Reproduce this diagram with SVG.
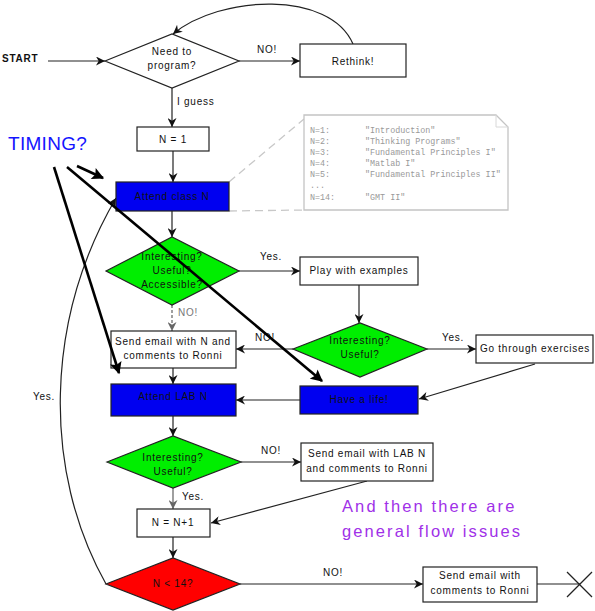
<svg xmlns="http://www.w3.org/2000/svg" width="595" height="611" viewBox="0 0 595 611">
<style>
  text { font-family: "Liberation Sans", Arial, sans-serif; font-size: 10px; fill: #111; letter-spacing: 0.75px; }
  .c { text-anchor: middle; }
  .box { fill: #fff; stroke: #222; stroke-width: 1.2; }
  .blue { fill: #0000f0; stroke: #222; stroke-width: 1.2; }
  .green { fill: #00ee00; stroke: #222; stroke-width: 1.2; }
  .red { fill: #ff0000; stroke: #222; stroke-width: 1.2; }
  .ln { fill: none; stroke: #222; stroke-width: 1.2; }
  .gray { fill: none; stroke: #777; stroke-width: 1.4; }
  .thick { fill: none; stroke: #000; stroke-width: 2.6; }
  .note { fill: #fff; stroke: #c4c4c4; stroke-width: 1.3; }
  .notet { font-family: "Liberation Mono", "Courier New", monospace; font-size: 8.4px; fill: #999; letter-spacing: 0; }
  .call { fill: none; stroke: #c8c8c8; stroke-width: 1.3; stroke-dasharray: 8 5; }
</style>
<defs>
  <marker id="arr" markerUnits="userSpaceOnUse" markerWidth="10" markerHeight="9" viewBox="0 0 10 10" refX="10" refY="5" orient="auto">
    <path d="M0,0 L10,5 L0,10 L3,5 z" fill="#111"/>
  </marker>
  <marker id="arrg" markerUnits="userSpaceOnUse" markerWidth="10" markerHeight="9" viewBox="0 0 10 10" refX="10" refY="5" orient="auto">
    <path d="M0,0 L10,5 L0,10 L3,5 z" fill="#666"/>
  </marker>
  <marker id="big" markerUnits="userSpaceOnUse" markerWidth="14" markerHeight="12" viewBox="0 0 10 10" refX="9" refY="5" orient="auto">
    <path d="M0,0 L10,5 L0,10 L2,5 z" fill="#000"/>
  </marker>
</defs>

<g id="connectors">
  <line class="ln" x1="48" y1="61" x2="105" y2="61" marker-end="url(#arr)"/>
  <line class="ln" x1="239" y1="61" x2="300" y2="61" marker-end="url(#arr)"/>
  <path class="ln" d="M353,44 C330,-10 220,-5 173,34" marker-end="url(#arr)"/>
  <line class="ln" x1="172" y1="88" x2="172" y2="127" marker-end="url(#arr)"/>
  <line class="ln" x1="173" y1="151" x2="173" y2="182" marker-end="url(#arr)"/>
  <line class="ln" x1="172" y1="211" x2="172" y2="237" marker-end="url(#arr)"/>
  <line class="ln" x1="239" y1="271" x2="300" y2="271" marker-end="url(#arr)"/>
  <line class="ln" x1="359" y1="285" x2="359" y2="323" marker-end="url(#arr)"/>
  <line class="ln" x1="427" y1="349" x2="476" y2="349" marker-end="url(#arr)"/>
  <line class="ln" x1="293" y1="349" x2="236" y2="349" marker-end="url(#arr)"/>
  <line class="ln" x1="535" y1="364" x2="419" y2="399" marker-end="url(#arr)"/>
  <line class="ln" x1="300" y1="400" x2="236" y2="400" marker-end="url(#arr)"/>
  <line class="gray" x1="172" y1="305" x2="172" y2="331" stroke-dasharray="3 2" marker-end="url(#arrg)"/>
  <line class="ln" x1="173" y1="368" x2="173" y2="384" marker-end="url(#arr)"/>
  <line class="ln" x1="173" y1="416" x2="173" y2="436" marker-end="url(#arr)"/>
  <line class="ln" x1="241" y1="462" x2="301" y2="462" marker-end="url(#arr)"/>
  <line class="ln" x1="367" y1="481" x2="211" y2="523" marker-end="url(#arr)"/>
  <line class="gray" x1="173" y1="488" x2="173" y2="509" marker-end="url(#arrg)"/>
  <line class="ln" x1="173" y1="537" x2="173" y2="558" marker-end="url(#arr)"/>
  <line class="ln" x1="240" y1="584" x2="423" y2="584" marker-end="url(#arr)"/>
  <path class="ln" d="M106,584 C42,470 45,320 116,198" marker-end="url(#arr)"/>
  <line class="ln" x1="537" y1="584" x2="580" y2="584"/>
  <line class="call" x1="229" y1="182" x2="304" y2="119"/>
  <line class="call" x1="229" y1="211" x2="304" y2="210"/>
</g>

<g id="start"><text x="2" y="62" style="font-weight:bold">START</text></g>

<g id="need">
  <polygon class="box" points="105,61 172,34 239,61 172,88"/>
  <text class="c" x="172" y="55">Need to</text>
  <text class="c" x="172" y="69">program?</text>
</g>
<g id="rethink">
  <rect class="box" x="300" y="44" width="106" height="33"/>
  <text class="c" x="353" y="65">Rethink!</text>
</g>
<g id="n1">
  <rect class="box" x="137" y="127" width="72" height="24"/>
  <text class="c" x="173" y="143">N = 1</text>
</g>
<g id="attendclass">
  <rect class="blue" x="116" y="182" width="113" height="29"/>
  <text class="c" x="172" y="200">Attend class N</text>
</g>
<g id="note">
  <path class="note" d="M304,115 L496,115 L508,127 L508,210 L304,210 Z"/>
  <path fill="none" stroke="#d8d8d8" stroke-width="1" d="M496,115 L496,127 L508,127"/>
  <text class="notet" x="310" y="133">N=1:</text><text class="notet" x="365" y="133">"Introduction"</text>
  <text class="notet" x="310" y="144">N=2:</text><text class="notet" x="365" y="144">"Thinking Programs"</text>
  <text class="notet" x="310" y="155">N=3:</text><text class="notet" x="365" y="155">"Fundamental Principles I"</text>
  <text class="notet" x="310" y="166">N=4:</text><text class="notet" x="365" y="166">"Matlab I"</text>
  <text class="notet" x="310" y="177">N=5:</text><text class="notet" x="365" y="177">"Fundamental Principles II"</text>
  <text class="notet" x="310" y="188">...</text>
  <text class="notet" x="310" y="200">N=14:</text><text class="notet" x="365" y="200">"GMT II"</text>
</g>
<g id="q1">
  <polygon class="green" points="106,271 172,237 239,271 172,305"/>
  <text class="c" x="172" y="260">Interesting?</text>
  <text class="c" x="172" y="274">Useful?</text>
  <text class="c" x="172" y="288">Accessible?</text>
</g>
<g id="play">
  <rect class="box" x="300" y="257" width="118" height="28"/>
  <text class="c" x="359" y="274">Play with examples</text>
</g>
<g id="q2">
  <polygon class="green" points="293,349 360,323 427,349 360,377"/>
  <text class="c" x="360" y="344">Interesting?</text>
  <text class="c" x="360" y="358">Useful?</text>
</g>
<g id="exercises">
  <rect class="box" x="476" y="335" width="117" height="28"/>
  <text class="c" x="535" y="352">Go through exercises</text>
</g>
<g id="life">
  <rect class="blue" x="300" y="386" width="118" height="28"/>
  <text class="c" x="359" y="403">Have a life!</text>
</g>
<g id="email1">
  <rect class="box" x="111" y="331" width="125" height="37"/>
  <text class="c" x="173" y="345">Send email with N and</text>
  <text class="c" x="173" y="359">comments to Ronni</text>
</g>
<g id="lab">
  <rect class="blue" x="111" y="384" width="125" height="32"/>
  <text class="c" x="173" y="400">Attend LAB N</text>
</g>
<g id="q3">
  <polygon class="green" points="107,462 173,436 241,462 173,488"/>
  <text class="c" x="173" y="461">Interesting?</text>
  <text class="c" x="173" y="475">Useful?</text>
</g>
<g id="email2">
  <rect class="box" x="301" y="443" width="132" height="38"/>
  <text class="c" x="367" y="457">Send email with LAB N</text>
  <text class="c" x="367" y="472">and comments to Ronni</text>
</g>
<g id="ninc">
  <rect class="box" x="137" y="509" width="73" height="28"/>
  <text class="c" x="173" y="526">N = N+1</text>
</g>
<g id="q4">
  <polygon class="red" points="106,584 173,558 240,584 173,610"/>
  <text class="c" x="173" y="587">N &lt; 14?</text>
</g>
<g id="email3">
  <rect class="box" x="423" y="567" width="114" height="35"/>
  <text class="c" x="480" y="579">Send email with</text>
  <text class="c" x="480" y="594">comments to Ronni</text>
</g>
<g id="end">
  <line class="ln" x1="567" y1="572" x2="592" y2="597"/>
  <line class="ln" x1="567" y1="597" x2="592" y2="572"/>
</g>

<g id="labels">
  <text x="257" y="53">NO!</text>
  <text x="177" y="105">I guess</text>
  <text x="260" y="260">Yes.</text>
  <text x="442" y="341">Yes.</text>
  <text x="255" y="341">NO!</text>
  <text x="178" y="316" style="fill:#777">NO!</text>
  <text x="33" y="400">Yes.</text>
  <text x="261" y="454">NO!</text>
  <text x="182" y="500">Yes.</text>
  <text x="323" y="576">NO!</text>
</g>

<g id="annotations">
  <text x="8" y="150" style="font-size:19px;fill:#1414ff;letter-spacing:0.3px">TIMING?</text>
  <text x="342" y="512" style="font-size:16.5px;fill:#a030e8;letter-spacing:2.1px">And then there are</text>
  <text x="342" y="537" style="font-size:16.5px;fill:#a030e8;letter-spacing:2.1px">general flow issues</text>
  <line class="thick" x1="77" y1="166" x2="103" y2="178" marker-end="url(#big)"/>
  <line class="thick" x1="54" y1="167" x2="119" y2="373" marker-end="url(#big)"/>
  <line class="thick" x1="67" y1="167" x2="322" y2="381" marker-end="url(#big)"/>
</g>
</svg>
